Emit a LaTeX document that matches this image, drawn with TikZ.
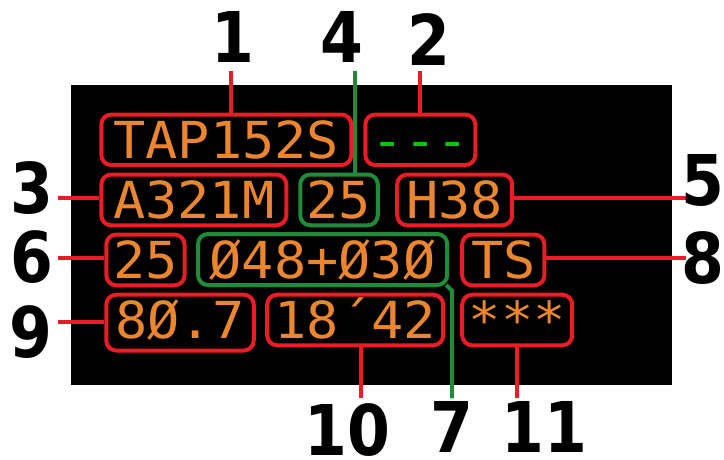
\documentclass[tikz,border=0pt]{standalone}
\usepackage{fontspec}
\newfontfamily\dispfont[FakeStretch=1.05]{DejaVu Sans Mono}
\newfontfamily\labfont[FakeStretch=0.88]{DejaVu Sans}
\definecolor{boxred}{RGB}{237,28,36}
\definecolor{boxgreen}{RGB}{34,139,58}
\definecolor{txtor}{RGB}{236,134,46}
\definecolor{dashgreen}{RGB}{0,200,0}
\begin{document}
\begin{tikzpicture}[x=1pt,y=-1pt,
  rbox/.style={draw=boxred, line width=4pt, rounded corners=10pt, inner sep=0pt,
    text height=37pt, text depth=0pt, text=txtor,
    font=\dispfont\fontsize{51}{51}\selectfont},
  gbox/.style={rbox, draw=boxgreen},
  rlead/.style={draw=boxred, line width=4pt},
  glead/.style={draw=boxgreen, line width=4pt},
  lab/.style={font=\labfont\bfseries\fontsize{70}{70}\selectfont, text=black,
    inner sep=0pt, anchor=base}
]
\useasboundingbox (0,0) rectangle (724,459);
\fill[white] (0,0) rectangle (724,459);
\fill[black] (71,85) rectangle (672,384.5);

% boxes
\node[rbox, minimum width=250pt, minimum height=50.5pt] (b1) at (226.3,139.8) {TAP152S};
\node[rbox, minimum width=110pt, minimum height=50.5pt, text=dashgreen] (b2) at (420.3,139.8) {-{}-{}-};
\node[rbox, minimum width=185pt, minimum height=50.8pt] (b3) at (193.8,199.9) {A321M};
\node[gbox, minimum width=77.5pt, minimum height=50.8pt] (b4) at (339,199.9) {25};
\node[rbox, minimum width=115pt, minimum height=50.8pt] (b5) at (454.7,199.9) {H38};
\node[rbox, minimum width=78.2pt, minimum height=50.8pt] (b6) at (145.4,259.9) {25};
\node[gbox, minimum width=249.2pt, minimum height=51pt] (b7) at (322.6,259.5) {Ø48+Ø3Ø};
\node[rbox, minimum width=82.3pt, minimum height=50.8pt] (b8) at (503.3,259.9) {TS};
\node[rbox, minimum width=147.5pt, minimum height=55.8pt, text height=31pt] (b9) at (180,322.6) {8Ø.7};
\node[rbox, minimum width=176pt, minimum height=50.6pt] (b10) at (355.2,320) {18´42};
\node[rbox, minimum width=110pt, minimum height=50.6pt] (b11) at (517.2,320) {***};

% leader lines
\coordinate (c1) at (231.2,71);
\coordinate (c4) at (355.3,71);
\coordinate (c2) at (420.3,71);
\coordinate (c3) at (58.3,197.8);
\coordinate (c5) at (686,197.8);
\coordinate (c6) at (58.3,257.8);
\coordinate (c8) at (686,257.8);
\coordinate (c9) at (58.3,322.3);
\coordinate (c10) at (360.5,398.3);
\coordinate (k7) at (452.2,291);
\coordinate (c7) at (452.2,398.3);
\coordinate (c11) at (517.2,398.3);

\draw[rlead] (c1) -- (c1 |- b1.north);
\draw[glead] (c4) -- (c4 |- b4.north);
\draw[rlead] (c2) -- (c2 |- b2.north);
\draw[rlead] (c3) -- (c3 -| b3.west);
\draw[rlead] (b5.east |- c5) -- (c5);
\draw[rlead] (c6) -- (c6 -| b6.west);
\draw[rlead] (b8.east |- c8) -- (c8);
\draw[rlead] (c9) -- (c9 -| b9.west);
\draw[rlead] (c10 |- b10.south) -- (c10);
\draw[glead] ([xshift=-3pt,yshift=2pt]b7.south east) -- (k7) -- (c7);
\draw[rlead] (c11 |- b11.south) -- (c11);

% labels
\node[lab] (n1) at (233,62) {1};
\node[lab] (n4) at (342,62) {4};
\node[lab] (n2) at (429,65) {2};
\node[lab] (n3) at (32,213) {3};
\node[lab] (n6) at (32,282) {6};
\node[lab] (n9) at (31,357) {9};
\node[lab] (n5) at (703,205) {5};
\node[lab] (n8) at (703,283) {8};
\node[lab] (n10) at (347,455) {10};
\node[lab] (n7) at (452,452) {7};
\node[lab] (n11) at (544,452) {11};
\end{tikzpicture}
\end{document}
